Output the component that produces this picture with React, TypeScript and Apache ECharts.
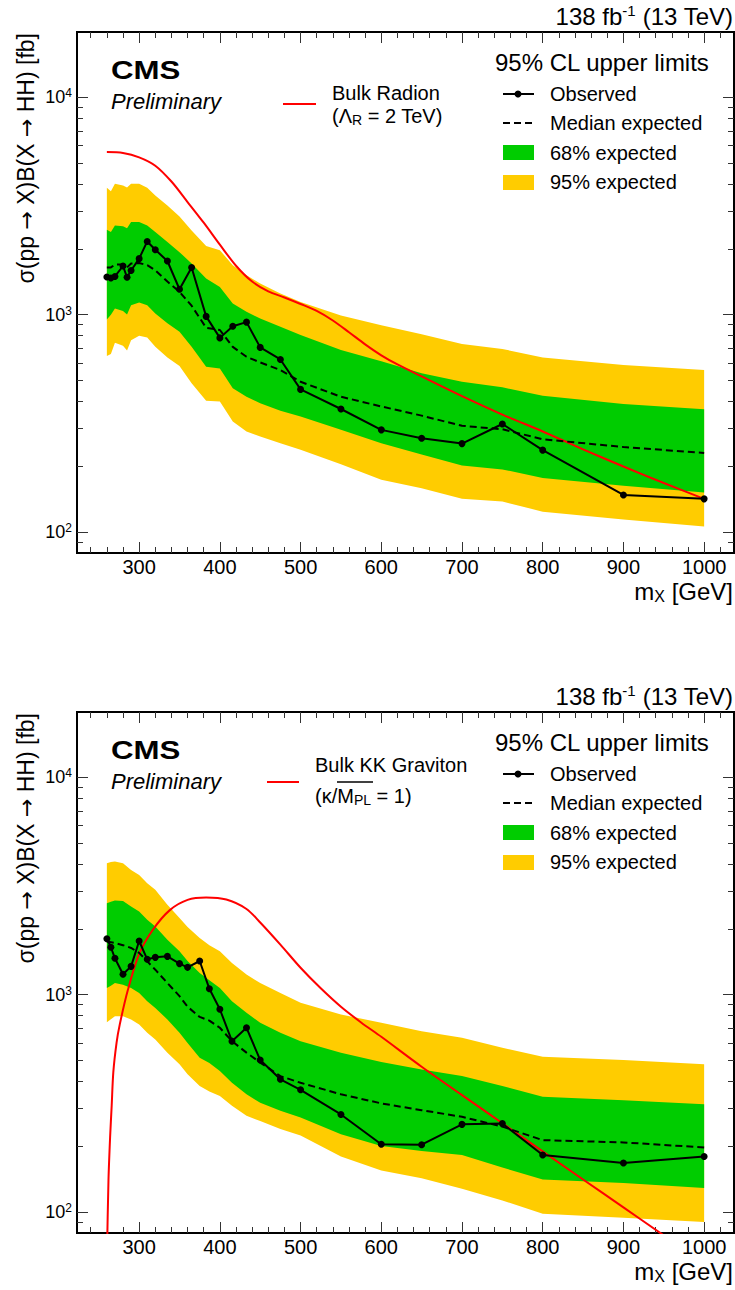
import React, { useEffect, useRef } from "react";
import * as echarts from "echarts";

const FONT = '"Liberation Sans", Arial, Helvetica, sans-serif';
const ARROW_FONT = '"DejaVu Sans", sans-serif';

// ---- axes ----
const X_MIN = 223;
const X_MAX = 1037;
const Y_MIN = 80;
const Y_MAX = 20000;
const xMajorTicks = [300, 400, 500, 600, 700, 800, 900, 1000];
const xMinorTicks = [240, 260, 280, 320, 340, 360, 380, 420, 440, 460, 480, 520, 540, 560, 580, 620, 640, 660, 680, 720, 740, 760, 780, 820, 840, 860, 880, 920, 940, 960, 980, 1020];
const yMajorTicks = [100, 1000, 10000];
const yMinorTicks = [90, 200, 300, 400, 500, 600, 700, 800, 900, 2000, 3000, 4000, 5000, 6000, 7000, 8000, 9000];

// ---- top panel: Bulk Radion ----
const radMass = [260, 265, 270, 280, 285, 290, 300, 310, 320, 335, 350, 365, 383, 400, 416, 433, 450, 475, 500, 550, 600, 650, 700, 750, 800, 900, 1000];
const radObserved = [1490, 1475, 1500, 1675, 1486, 1597, 1811, 2173, 1990, 1766, 1309, 1648, 982, 782, 885, 924, 707, 622, 453, 368, 295, 270, 255, 314, 238, 148, 142];
const radExpected = [1650, 1650, 1700, 1700, 1650, 1720, 1730, 1690, 1600, 1420, 1274, 1100, 870, 850, 711, 640, 603, 556, 491, 419, 378, 343, 308, 297, 267, 246, 231];
const radYellowUp = [3840, 3700, 4000, 3930, 3850, 4000, 4000, 3840, 3540, 3180, 2830, 2440, 2070, 1980, 1690, 1520, 1390, 1250, 1145, 990, 895, 813, 732, 695, 636, 586, 556];
const radGreenUp = [2460, 2400, 2575, 2550, 2500, 2667, 2667, 2575, 2400, 2160, 1940, 1720, 1466, 1342, 1125, 1031, 961, 880, 806, 688, 610, 537, 491, 463, 423, 388, 367];
const radGreenLo = [951, 1000, 1068, 1040, 1002, 1106, 1138, 1106, 1012, 912, 834, 711, 576, 566, 458, 419, 391, 361, 340, 295, 256, 227, 202, 194, 177, 163, 152];
const radYellowLo = [645, 660, 742, 720, 684, 763, 800, 786, 711, 636, 580, 483, 402, 398, 322, 290, 275, 256, 239, 205, 174, 159, 142, 138, 124, 114, 106];
const radTheoryMass = [260, 280, 300, 320, 340, 360, 380, 400, 420, 440, 460, 480, 500, 520, 540, 560, 580, 600, 620, 650, 700, 750, 800, 850, 900, 950, 1000];
const radTheory = [5600, 5550, 5300, 4850, 4100, 3300, 2650, 2100, 1680, 1420, 1280, 1200, 1120, 1040, 940, 830, 730, 650, 590, 520, 422, 347, 290, 240, 200, 168, 142];

// ---- bottom panel: Bulk KK Graviton ----
const gravMass = [260, 265, 270, 280, 290, 300, 310, 320, 335, 350, 360, 375, 387, 400, 415, 433, 450, 475, 500, 550, 600, 650, 700, 750, 800, 900, 1000];
const gravObserved = [1810, 1653, 1470, 1241, 1350, 1766, 1455, 1485, 1501, 1390, 1336, 1429, 1064, 857, 611, 704, 500, 408, 365, 281, 205, 204, 253, 255, 183, 168, 180];
const gravExpected = [1757, 1745, 1729, 1690, 1641, 1557, 1424, 1303, 1132, 984, 880, 790, 760, 704, 611, 541, 487, 422, 393, 348, 316, 294, 274, 247, 214, 209, 198];
const gravYellowUp = [4029, 4080, 4100, 4029, 3750, 3558, 3259, 3038, 2593, 2253, 2050, 1823, 1690, 1583, 1400, 1237, 1132, 1019, 917, 811, 742, 679, 633, 570, 518, 500, 478];
const gravGreenUp = [2636, 2680, 2710, 2700, 2547, 2415, 2213, 2062, 1791, 1583, 1430, 1259, 1165, 1073, 933, 825, 743, 668, 611, 541, 490, 453, 422, 380, 339, 327, 313];
const gravGreenLo = [1073, 1100, 1132, 1112, 1073, 1019, 933, 869, 769, 668, 600, 513, 485, 445, 393, 348, 318, 292, 272, 228, 201, 191, 183, 160, 141, 136, 129];
const gravYellowLo = [747, 770, 796, 796, 769, 729, 668, 622, 541, 478, 430, 380, 358, 342, 308, 277, 262, 241, 225, 180, 155, 143, 128, 113, 98, 94, 90];
const gravTheoryMass = [260, 262, 264, 266, 268, 272, 276, 286, 300, 317, 338, 360, 383, 408, 433, 450, 475, 500, 525, 550, 575, 600, 650, 700, 750, 800, 850, 900, 950];
const gravTheory = [60, 140, 220, 310, 440, 600, 730, 1050, 1540, 1990, 2450, 2730, 2800, 2740, 2480, 2150, 1700, 1330, 1070, 880, 745, 640, 466, 345, 256, 190, 141, 105, 78];

const GREEN = "#00cc00";
const YELLOW = "#ffcc00";
const RED = "#ff0000";

const GRID_LEFT = 77;
const GRID_W = 657;
const GRID_H = 521;
const GRID_TOPS = [32, 712];

function xAxesFor(g: number) {
  const base = {
    gridIndex: g,
    type: "value",
    min: X_MIN,
    max: X_MAX,
    axisLine: { show: false, onZero: false },
    splitLine: { show: false },
  };
  const tick = (vals: number[], len: number) => ({
    show: true,
    inside: true,
    length: len,
    customValues: vals,
    lineStyle: { color: "#333", width: 1 },
  });
  return [
    {
      ...base,
      position: "bottom",
      axisTick: tick(xMajorTicks, 11),
      axisLabel: {
        show: true,
        customValues: xMajorTicks,
        formatter: (v: number) => String(v),
        fontSize: 20,
        fontFamily: FONT,
        color: "#000",
        margin: 4,
      },
    },
    { ...base, position: "bottom", axisTick: tick(xMinorTicks, 6), axisLabel: { show: false } },
    { ...base, position: "top", axisTick: tick(xMajorTicks, 11), axisLabel: { show: false } },
    { ...base, position: "top", axisTick: tick(xMinorTicks, 6), axisLabel: { show: false } },
  ];
}

function yAxesFor(g: number) {
  const base = {
    gridIndex: g,
    type: "log",
    logBase: 10,
    min: Y_MIN,
    max: Y_MAX,
    axisLine: { show: false, onZero: false },
    splitLine: { show: false },
  };
  const tick = (vals: number[], len: number) => ({
    show: true,
    inside: true,
    length: len,
    customValues: vals,
    lineStyle: { color: "#333", width: 1 },
  });
  return [
    {
      ...base,
      position: "left",
      axisTick: tick(yMajorTicks, 11),
      axisLabel: {
        show: true,
        customValues: yMajorTicks,
        margin: 5,
        formatter: (v: number) => `{b|10}{s|${Math.round(Math.log10(v))}}`,
        rich: {
          b: { fontSize: 18, fontFamily: FONT, color: "#000", lineHeight: 20 },
          s: { fontSize: 12, fontFamily: FONT, color: "#000", lineHeight: 12, verticalAlign: "top" },
        },
      },
    },
    { ...base, position: "left", axisTick: tick(yMinorTicks, 6), axisLabel: { show: false } },
    { ...base, position: "right", axisTick: tick(yMajorTicks, 11), axisLabel: { show: false } },
    { ...base, position: "right", axisTick: tick(yMinorTicks, 6), axisLabel: { show: false } },
  ];
}

function band(g: number, mass: number[], up: number[], lo: number[], color: string, z: number) {
  return {
    type: "custom",
    xAxisIndex: g * 4,
    yAxisIndex: g * 4,
    z,
    silent: true,
    clip: true,
    data: [[mass[0], up[0]]],
    renderItem: (_p: any, api: any) => {
      const pts: number[][] = [];
      for (let i = 0; i < mass.length; i++) pts.push(api.coord([mass[i], up[i]]));
      for (let i = mass.length - 1; i >= 0; i--) pts.push(api.coord([mass[i], lo[i]]));
      return { type: "polygon", shape: { points: pts }, style: { fill: color, lineWidth: 0 } };
    },
  };
}

function pairs(m: number[], v: number[]) {
  return m.map((x, i) => [x, v[i]]);
}

function panelSeries(
  g: number,
  mass: number[],
  obs: number[],
  exp: number[],
  yu: number[],
  gu: number[],
  gl: number[],
  yl: number[],
  thM: number[],
  th: number[]
) {
  return [
    band(g, mass, yu, yl, YELLOW, 1),
    band(g, mass, gu, gl, GREEN, 2),
    {
      type: "line",
      xAxisIndex: g * 4,
      yAxisIndex: g * 4,
      data: pairs(thM, th),
      symbol: "none",
      smooth: 0.3,
      clip: true,
      lineStyle: { color: RED, width: 2 },
      z: 3,
    },
    {
      type: "line",
      xAxisIndex: g * 4,
      yAxisIndex: g * 4,
      data: pairs(mass, exp),
      symbol: "none",
      clip: true,
      lineStyle: { color: "#000", width: 2, type: [7, 4] },
      z: 4,
    },
    {
      type: "line",
      xAxisIndex: g * 4,
      yAxisIndex: g * 4,
      data: pairs(mass, obs),
      symbol: "circle",
      symbolSize: 7,
      showSymbol: true,
      clip: true,
      itemStyle: { color: "#000" },
      lineStyle: { color: "#000", width: 2 },
      z: 5,
    },
  ];
}

function txt(x: number, y: number, text: string, size: number, extra: any = {}, elExtra: any = {}) {
  return {
    type: "text",
    x,
    y,
    z: 100,
    ...elExtra,
    style: {
      text,
      fontSize: size,
      fontFamily: FONT,
      fill: "#000",
      align: "left",
      textAlign: "left",
      verticalAlign: "middle",
      textVerticalAlign: "middle",
      ...extra,
    },
  };
}

function panelGraphics(dy: number, isGrav: boolean) {
  const els: any[] = [];
  // luminosity label
  els.push(
    txt(733, 16 + dy, "{a|138 fb}{s|-1}{a| (13 TeV)}", 24, {
      align: "right",
      textAlign: "right",
      rich: {
        a: { fontSize: 24, fontFamily: FONT, fill: "#000", lineHeight: 26 },
        s: { fontSize: 15, fontFamily: FONT, fill: "#000", lineHeight: 15, verticalAlign: "top" },
      },
    })
  );
  // CMS / Preliminary
  els.push(txt(111, 70 + dy, "CMS", 26, { fontWeight: "bold" }, { scaleX: 1.2 }));
  els.push(txt(111, 101 + dy, "Preliminary", 22, { fontStyle: "italic" }));
  // y axis title
  const aSt = { fontSize: 23, fontFamily: FONT, fill: "#000", lineHeight: 26 };
  const rSt = { fontSize: 22, fontFamily: ARROW_FONT, fill: "#000", lineHeight: 26 };
  els.push(
    txt(
      26,
      33 + dy,
      "{a|σ(pp }{r|→}{a| X)B(X }{r|→}{a| HH) [fb]}",
      23,
      { align: "right", textAlign: "right", rich: { a: aSt, r: rSt } },
      { rotation: Math.PI / 2 }
    )
  );
  // x axis title
  els.push(
    txt(733, 591 + dy, "{a|m}{b|X}{a| [GeV]}", 24, {
      align: "right",
      textAlign: "right",
      rich: {
        a: { fontSize: 24, fontFamily: FONT, fill: "#000", lineHeight: 26 },
        b: { fontSize: 16, fontFamily: FONT, fill: "#000", lineHeight: 16, verticalAlign: "bottom" },
      },
    })
  );
  // theory legend
  if (!isGrav) {
    els.push({ type: "line", z: 100, shape: { x1: 283, y1: 104 + dy, x2: 316, y2: 104 + dy }, style: { stroke: RED, lineWidth: 2 } });
    els.push(txt(332, 93 + dy, "Bulk Radion", 20));
    els.push(
      txt(332, 116 + dy, "{a|(Λ}{b|R}{a| = 2 TeV)}", 20, {
        rich: {
          a: { fontSize: 20, fontFamily: FONT, fill: "#000", lineHeight: 22 },
          b: { fontSize: 14, fontFamily: FONT, fill: "#000", lineHeight: 14, verticalAlign: "bottom" },
        },
      })
    );
  } else {
    els.push({ type: "line", z: 100, shape: { x1: 267, y1: 102 + dy, x2: 299, y2: 102 + dy }, style: { stroke: RED, lineWidth: 2 } });
    els.push(txt(315, 85 + dy, "Bulk KK Graviton", 20));
    els.push(
      txt(315, 116 + dy, "{a|(κ/M}{b|PL}{a| = 1)}", 20, {
        rich: {
          a: { fontSize: 20, fontFamily: FONT, fill: "#000", lineHeight: 22 },
          b: { fontSize: 14, fontFamily: FONT, fill: "#000", lineHeight: 14, verticalAlign: "bottom" },
        },
      })
    );
    els.push({ type: "line", z: 100, shape: { x1: 337, y1: 102 + dy, x2: 373, y2: 102 + dy }, style: { stroke: "#000", lineWidth: 1.5 } });
  }
  // limits legend
  els.push(txt(495, 62 + dy, "95% CL upper limits", 24));
  els.push({ type: "line", z: 100, shape: { x1: 503, y1: 94 + dy, x2: 534, y2: 94 + dy }, style: { stroke: "#000", lineWidth: 2 } });
  els.push({ type: "circle", z: 101, shape: { cx: 518, cy: 94 + dy, r: 3.5 }, style: { fill: "#000" } });
  els.push(txt(550, 94 + dy, "Observed", 20));
  els.push({ type: "line", z: 100, shape: { x1: 503, y1: 123 + dy, x2: 534, y2: 123 + dy }, style: { stroke: "#000", lineWidth: 2, lineDash: [7, 4] } });
  els.push(txt(550, 123 + dy, "Median expected", 20));
  els.push({ type: "rect", z: 100, shape: { x: 503, y: 145 + dy, width: 31, height: 15 }, style: { fill: GREEN } });
  els.push(txt(550, 153 + dy, "68% expected", 20));
  els.push({ type: "rect", z: 100, shape: { x: 503, y: 175 + dy, width: 31, height: 15 }, style: { fill: YELLOW } });
  els.push(txt(550, 182 + dy, "95% expected", 20));
  return els;
}

export default function App() {
  const ref = useRef<HTMLDivElement>(null);
  useEffect(() => {
    if (!ref.current) return;
    const chart = echarts.init(ref.current, null, { renderer: "svg" });
    const grids = GRID_TOPS.map((t) => ({
      left: GRID_LEFT,
      top: t,
      width: GRID_W,
      height: GRID_H,
      show: true,
      borderColor: "#000",
      borderWidth: 2,
      backgroundColor: "transparent",
      containLabel: false,
      outerBoundsMode: "none",
    }));
    const option: any = {
      animation: false,
      backgroundColor: "#fff",
      grid: grids,
      xAxis: [...xAxesFor(0), ...xAxesFor(1)],
      yAxis: [...yAxesFor(0), ...yAxesFor(1)],
      series: [
        ...panelSeries(0, radMass, radObserved, radExpected, radYellowUp, radGreenUp, radGreenLo, radYellowLo, radTheoryMass, radTheory),
        ...panelSeries(1, gravMass, gravObserved, gravExpected, gravYellowUp, gravGreenUp, gravGreenLo, gravYellowLo, gravTheoryMass, gravTheory),
      ],
      graphic: { elements: [...panelGraphics(0, false), ...panelGraphics(680, true)] },
    };
    chart.setOption(option);
    return () => chart.dispose();
  }, []);
  return <div ref={ref} style={{ position: "absolute", left: 0, top: 0, width: 735, height: 1290 }} />;
}
